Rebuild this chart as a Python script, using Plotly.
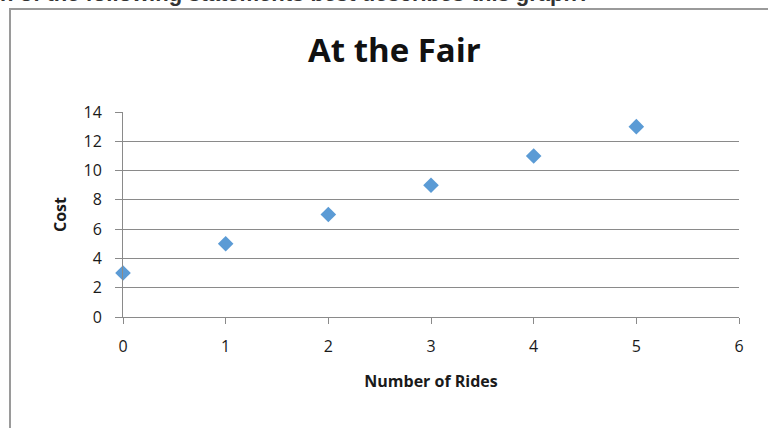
import plotly.graph_objects as go

# Cost at the fair versus number of rides taken
rides = [0, 1, 2, 3, 4, 5]
cost = [3, 5, 7, 9, 11, 13]

x_ticks = [0, 1, 2, 3, 4, 5, 6]
y_ticks = [0, 2, 4, 6, 8, 10, 12, 14]

title_text = "At the Fair"
x_title = "Number of Rides"
y_title = "Cost"
question_text = "n of the following statements best describes this graph?"

FONT = "Open Sans"
GRID = "#8a8a8a"
TXT = "#1a1a1a"

# plot-area pixel box used to place paper-referenced decorations
L, R, T, B = 123, 739, 112, 317


def px_x(px):
    return (px - L) / (R - L)


def px_y(py):
    return (B - py) / (B - T)


fig = go.Figure()
fig.add_trace(go.Scatter(
    x=rides, y=cost, mode="markers",
    marker=dict(symbol="diamond", size=12, color="#5b9bd5", line=dict(width=0)),
    showlegend=False, cliponaxis=False,
))

fig.update_layout(
    width=768, height=428,
    margin=dict(l=L, r=768 - R, t=T, b=428 - B),
    paper_bgcolor="white", plot_bgcolor="white",
    font=dict(family=FONT, color=TXT),
    xaxis=dict(
        range=[0, 6], tickvals=x_ticks, ticktext=[str(v) for v in x_ticks],
        showgrid=False, zeroline=False, showline=True, linecolor=GRID, linewidth=1,
        ticks="outside", ticklen=6, tickcolor=GRID, tickwidth=1,
        tickfont=dict(size=16, color=TXT), ticklabelstandoff=9,
        title=dict(text="<b>" + x_title + "</b>", font=dict(size=16, color=TXT), standoff=19),
    ),
    yaxis=dict(
        range=[0, 14], tickvals=y_ticks, ticktext=[str(v) for v in y_ticks],
        showgrid=True, gridcolor=GRID, gridwidth=1, zeroline=False,
        showline=True, linecolor=GRID, linewidth=1,
        ticks="outside", ticklen=7, tickcolor=GRID, tickwidth=1,
        tickfont=dict(size=16, color=TXT), ticklabelstandoff=10,
        title=dict(text="<b>" + y_title + "</b>", font=dict(size=16, color=TXT), standoff=12),
    ),
    shapes=[
        # outer chart frame
        dict(type="rect", xref="paper", yref="paper",
             x0=px_x(10), x1=px_x(780), y0=px_y(445), y1=px_y(9),
             line=dict(color="#9a9a9a", width=2), fillcolor="rgba(0,0,0,0)", layer="below"),
    ],
    annotations=[
        dict(text="<b>" + title_text + "</b>", xref="paper", yref="paper",
             x=px_x(394), y=px_y(50), xanchor="center", yanchor="middle",
             showarrow=False, font=dict(size=33, color="#111", family=FONT)),
        dict(text="<b>" + question_text + "</b>", xref="paper", yref="paper",
             x=px_x(-2), y=px_y(8), xanchor="left", yanchor="bottom",
             showarrow=False, font=dict(size=22, color="#333", family="Liberation Sans")),
    ],
)

fig.write_html("out.html")
